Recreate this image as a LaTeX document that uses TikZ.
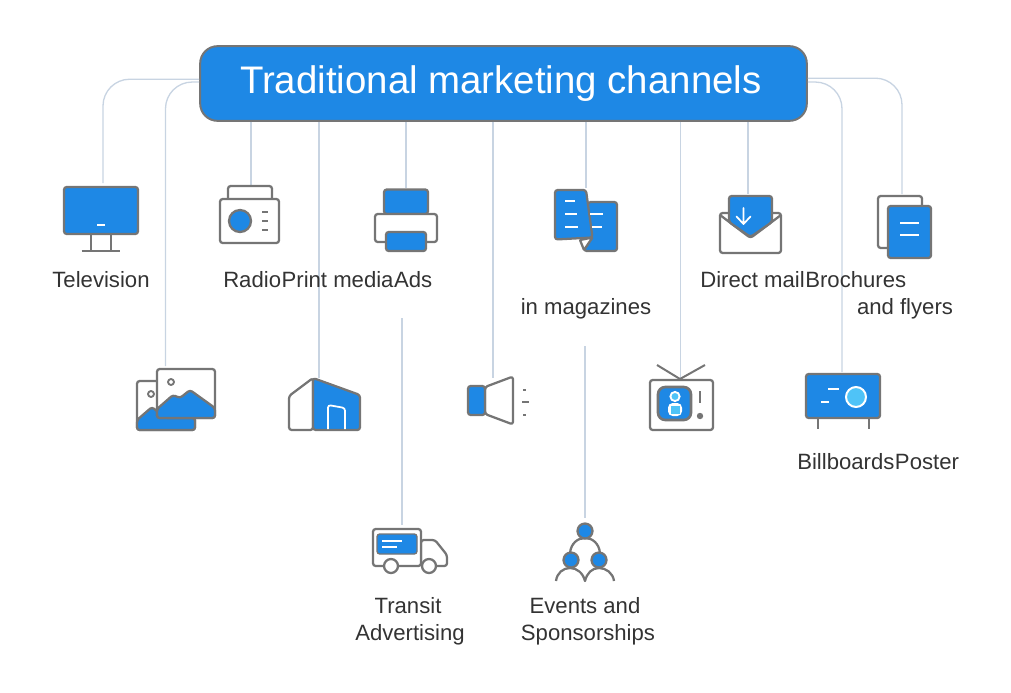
\documentclass[tikz,border=0pt]{standalone}
\usepackage{fontspec}
\setmainfont{Liberation Sans}
\definecolor{bluef}{HTML}{1E88E5}
\definecolor{grayl}{HTML}{757575}
\definecolor{conncol}{HTML}{C8D4E2}
\definecolor{lightb}{HTML}{4FC3F7}
\definecolor{txt}{HTML}{333333}
\tikzset{
 ic/.style={draw=grayl,line width=1.7pt,line join=round,rounded corners=2pt},
 icb/.style={ic,fill=bluef},
 icw/.style={ic,fill=white},
 wd/.style={draw=white,line width=1.5pt},
 gd/.style={draw=grayl,line width=1.5pt},
 conn/.style={draw=conncol,line width=1pt},
 lab/.style={text=txt,font=\fontsize{16.6pt}{20pt}\selectfont,inner sep=0pt,anchor=base},
 labw/.style={lab,anchor=base west},
 titlebox/.style={draw=grayl,fill=bluef,line width=1.5pt,rounded corners=13pt,minimum width=455pt,minimum height=56pt,text=white,inner sep=0pt,font=\fontsize{28.8pt}{32pt}\selectfont}
}
\begin{document}
\begin{tikzpicture}[x=0.75pt,y=-0.75pt]
\useasboundingbox (0,0) rectangle (1011,693);
\node[titlebox] (title) at (503.5,83.5) {\hspace*{-4pt}\raisebox{1pt}{Traditional marketing channels}};
% connector ends
\coordinate (cTv) at (103,183);
\coordinate (cImg) at (165.5,366);
\coordinate (cRadio) at (251,185);
\coordinate (cBuild) at (319,378);
\coordinate (cPrint) at (406,188);
\coordinate (cTruckTop) at (402,318);
\coordinate (cTruck) at (402,525);
\coordinate (cMega) at (493,378);
\coordinate (cMag) at (586,188);
\coordinate (cEvTop) at (585,346);
\coordinate (cEv) at (585,518);
\coordinate (cTvSmall) at (680.5,378);
\coordinate (cMail) at (748,194);
\coordinate (cBill) at (842,372);
\coordinate (cBroch) at (902,194);
% connectors
\draw[conn,rounded corners=20pt] ([yshift=3.2pt]title.west) -| (cTv);
\draw[conn,rounded corners=20pt] ([yshift=1.1pt]title.west) -| (cImg);
\draw[conn] (title.south -| cRadio) -- (cRadio);
\draw[conn] (title.south -| cBuild) -- (cBuild);
\draw[conn] (title.south -| cPrint) -- (cPrint);
\draw[conn] (cTruckTop) -- (cTruck);
\draw[conn] (title.south -| cMega) -- (cMega);
\draw[conn] (title.south -| cMag) -- (cMag);
\draw[conn] (cEvTop) -- (cEv);
\draw[conn] (title.south -| cTvSmall) -- (cTvSmall);
\draw[conn] (title.south -| cMail) -- (cMail);
\draw[conn,rounded corners=20pt] ([yshift=1.1pt]title.east) -| (cBill);
\draw[conn,rounded corners=20pt] ([yshift=4pt]title.east) -| (cBroch);
% television
\draw[ic] (91,234) -- (91,250) (111,234) -- (111,250);
\draw[gd,line width=1.7pt] (81.5,251) -- (120,251);
\draw[icb] (64,187) rectangle (138,234);
\draw[wd] (97,224.5) -- (105,224.5);
% radio
\draw[icw] (228,199) -- (228,186) -- (272,186) -- (272,199);
\draw[icw] (220,199) rectangle (279,243);
\draw[icb,sharp corners] (240,221) circle (11);
\draw[gd] (262,212) -- (268,212) (262,221) -- (268,221) (262,230) -- (268,230);
% printer
\draw[icb] (384,214) -- (384,189.5) -- (428,189.5) -- (428,214) -- cycle;
\draw[icw] (375,214) rectangle (437,242);
\draw[icb] (386,232) rectangle (426,251);
% magazines
\draw[icb] (588,202) -- (617,202) -- (617,251) -- (584,251) -- cycle;
\draw[icb] (555,190) -- (586,190) -- (592.5,237.5) -- (555,239.5) -- cycle;
\draw[icw,rounded corners=0.5pt] (580,240) -- (592.5,237.5) -- (584,250) -- cycle;
\draw[wd] (565,201) -- (575,201) (565,214) -- (577,214) (565,226.5) -- (578,226.5) (590,214) -- (603,214) (591.5,226.5) -- (602,226.5);
% mail
\draw[icw] (720,213) rectangle (781,253);
\draw[ic] (720,215) -- (750.5,238) -- (781,215);
\draw[icb] (729,196) -- (772,196) -- (772,222) -- (750.5,237) -- (729,222) -- cycle;
\draw[white,line width=1.3pt,line cap=round,line join=round] (743.5,208) -- (743.5,224) (736.5,216.5) -- (743.5,224) -- (750.5,216.5);
% brochures
\draw[icw] (878,196) rectangle (922,248);
\draw[icb] (888,206) rectangle (931,258);
\draw[wd] (900,223) -- (919,223) (900,235) -- (919,235);
% images
\draw[icw] (137,381) rectangle (195,430);
\draw[icb] (137,420) -- (152,407) -- (165,418) -- (195,418) -- (195,430) -- (137,430) -- cycle;
\draw[ic,sharp corners,line width=1.4pt] (151,394) circle (3);
\draw[icw] (157,369) rectangle (215,418);
\draw[icb] (157,409) -- (173,395) -- (180,398) -- (190,390) -- (215,408) -- (215,418) -- (157,418) -- cycle;
\draw[ic,sharp corners,line width=1.4pt] (171,382) circle (3);
% building
\draw[icw] (289,430) -- (289,396) -- (313,378) -- (313,430) -- cycle;
\draw[icb] (313,430) -- (313,378) -- (360,395) -- (360,430) -- cycle;
\draw[white,line width=1.3pt,rounded corners=2pt] (328,429) -- (328,405) -- (345,408) -- (345,429);
% megaphone
\draw[icw] (485,387) -- (513,376.5) -- (513,424.5) -- (485,414) -- cycle;
\draw[icb] (468,386) rectangle (485,415);
\draw[gd] (523,389.5) -- (526,389.5) (522,402) -- (529,402) (523,414.5) -- (526,414.5);
% small tv
\draw[gd,line width=1.5pt] (657,365) -- (680,379) -- (705,365);
\draw[icw] (650,380) rectangle (713,430);
\draw[icb,rounded corners=5.5pt,line width=2pt] (658,387) rectangle (691,420);
\draw[white,fill=lightb,line width=1.4pt] (675,396.5) circle (4.6);
\fill[white,rounded corners=3.5pt] (668,416) -- (668,403) -- (682,403) -- (682,416) -- cycle;
\fill[lightb] (671,405.5) rectangle (680,414);
\draw[gd] (700,391) -- (700,403);
\fill[grayl] (700,416) circle (3.2);
% billboard
\draw[gd,line width=1.7pt] (818,418) -- (818,429) (869,418) -- (869,429);
\draw[icb] (806,374) rectangle (880,418);
\draw[wd] (828,389) -- (839,389) (821,402) -- (829,402);
\draw[white,fill=lightb,line width=1.5pt] (856,397) circle (10);
% truck
\draw[icw] (421,540) -- (435,540) -- (447,555) -- (447,566) -- (421,566) -- cycle;
\draw[icw] (421,566) -- (373,566) -- (373,529) -- (421,529) -- cycle;
\draw[icb,line width=1pt] (377,534) rectangle (417,554);
\draw[wd,line width=1.1pt] (382,541) -- (402,541) (382,547) -- (397,547);
\draw[icw,sharp corners] (391,566) circle (7);
\draw[icw,sharp corners] (429,566) circle (7);
% events
\draw[ic,sharp corners] (570,553) .. controls (571,543) and (578,538) .. (585,538) .. controls (592,538) and (599,543) .. (600,553);
\draw[ic,sharp corners] (556,581) .. controls (557,573) and (563,568) .. (570,568) .. controls (577,568) and (583,573) .. (585,581) .. controls (587,573) and (592,568) .. (599,568) .. controls (606,568) and (613,573) .. (614,581);
\draw[icb,sharp corners] (585,531) circle (7.5);
\draw[icb,sharp corners] (571,560) circle (7.5);
\draw[icb,sharp corners] (599,560) circle (7.5);
% labels
\node[lab] (lTv) at (101,287) {Television};
\node[labw] (lRadio) at (223,287) {Radio};
\node[labw] (lPrint) at (lRadio.base east) {Print media};
\node[labw] (lAds) at (lPrint.base east) {Ads};
\node[lab] (lMag) at (586,314) {in magazines};
\node[labw] (lMail) at (700,287) {Direct mail};
\node[labw] (lBroch) at (lMail.base east) {Brochures};
\node[lab] (lFly) at (905,314) {and flyers};
\node[labw] (lBill) at (797,469) {Billboards};
\node[labw] (lPoster) at (lBill.base east) {Poster};
\node[lab] (lTr1) at (408,613) {Transit};
\node[lab] (lTr2) at (410,640) {Advertising};
\node[lab] (lEv1) at (585,613) {Events and};
\node[lab] (lEv2) at (588,640) {Sponsorships};
\end{tikzpicture}
\end{document}
